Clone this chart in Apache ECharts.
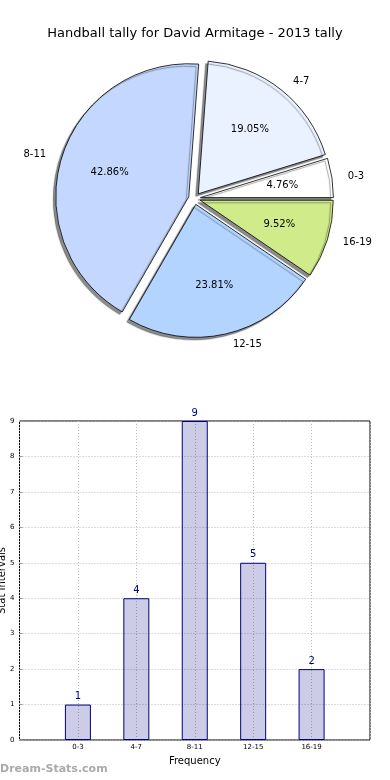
<!DOCTYPE html>
<html><head><meta charset="utf-8">
<script src="https://cdn.jsdelivr.net/npm/echarts@6/dist/echarts.min.js"></script>
<style>html,body{margin:0;padding:0;background:#fff}#c{width:390px;height:780px}</style>
</head><body><div id="c"></div>
<script>
const titleText = 'Handball tally for David Armitage - 2013 tally';
const pieCategories = ['0-3', '4-7', '8-11', '12-15', '16-19'];
const pieValues = [1, 4, 9, 5, 2];
const pieColors = ['#ffffff', '#eaf1ff', '#c4d8ff', '#b3d4ff', '#d0ec8a'];
const barCategories = ['0-3', '4-7', '8-11', '12-15', '16-19'];
const barValues = [1, 4, 9, 5, 2];
const yTicks = [0, 1, 2, 3, 4, 5, 6, 7, 8, 9];

const FONT = 'DejaVu Sans';
const total = pieValues.reduce((a, b) => a + b, 0);
const R = 133;
const OFF = 6;
const CENTER = [194.5, 198.5];
const pieData = pieCategories.map((n, i) => ({
  name: n, value: pieValues[i], selected: true,
  itemStyle: { color: pieColors[i] }
}));

const chart = echarts.init(document.getElementById('c'), null, { renderer: 'canvas' });
chart.setOption({
  animation: false,
  backgroundColor: '#fff',
  textStyle: { fontFamily: FONT },
  title: {
    text: titleText, left: 'center', top: 22,
    textStyle: { fontFamily: FONT, fontSize: 13, fontWeight: 'normal', color: '#000' }
  },
  graphic: [{
    type: 'text', left: 0, top: 764,
    style: { text: 'Dream-Stats.com', fill: '#aaaaaa', font: 'bold 11px "DejaVu Sans"' }
  }],
  grid: {
    left: 19.5, right: 20, top: 421, bottom: 40, show: true,
    outerBoundsMode: 'none', containLabel: false,
    borderColor: '#000', borderWidth: 1, backgroundColor: 'transparent'
  },
  xAxis: {
    type: 'value', min: -1, max: 5, interval: 1, position: 'bottom',
    name: 'Frequency', nameLocation: 'middle', nameGap: 16, nameMoveOverlap: false,
    nameTextStyle: { fontFamily: FONT, fontSize: 10, color: '#000' },
    axisLine: { show: false, onZero: false },
    axisTick: { show: false },
    axisLabel: {
      fontFamily: FONT, fontSize: 7, color: '#000', margin: 4,
      formatter: v => (v >= 0 && v < barCategories.length) ? barCategories[v] : ''
    },
    splitLine: { show: true, lineStyle: { color: '#bbbbbb', type: [1, 2], width: 1 } }
  },
  yAxis: {
    type: 'value', min: yTicks[0], max: yTicks[yTicks.length - 1], interval: 1, position: 'left',
    name: 'Stat Intervals', nameLocation: 'middle', nameGap: 12, nameMoveOverlap: false,
    nameTextStyle: { fontFamily: FONT, fontSize: 10, color: '#000' },
    axisLine: { show: false, onZero: false },
    axisTick: { show: true, inside: true, length: 3, lineStyle: { color: '#999' } },
    axisLabel: { fontFamily: FONT, fontSize: 7, color: '#000', margin: 5 },
    splitLine: { show: true, lineStyle: { color: '#bbbbbb', type: [1, 2], width: 1 } }
  },
  series: [
    {
      type: 'bar',
      data: barValues.map((v, i) => [i, v]),
      barWidth: 26,
      itemStyle: { color: 'rgba(0,0,128,0.2)', borderColor: '#000080', borderWidth: 1 },
      label: { show: true, position: 'top', distance: 3, color: '#000080', fontFamily: FONT, fontSize: 10 },
      z: 1
    },
    {
      type: 'pie', center: CENTER, radius: [0, R],
      startAngle: 0, clockwise: false,
      selectedMode: 'multiple', selectedOffset: OFF,
      avoidLabelOverlap: false,
      data: pieData,
      itemStyle: {
        borderColor: '#000', borderWidth: 0.8,
        shadowColor: 'rgba(0,0,0,0.45)', shadowBlur: 1, shadowOffsetX: -2.5, shadowOffsetY: 2.5
      },
      select: { itemStyle: { borderColor: '#000', borderWidth: 0.8 } },
      emphasis: { disabled: true },
      label: {
        show: true, position: 'outside', color: '#000', fontFamily: FONT, fontSize: 10,
        formatter: '{b}'
      },
      labelLine: { show: false, length: 11, length2: 0 },
      labelLayout: { hideOverlap: false }
    },
    {
      type: 'pie', center: CENTER, radius: [R * 0.2, R],
      startAngle: 0, clockwise: false,
      selectedMode: 'multiple', selectedOffset: OFF,
      avoidLabelOverlap: false, silent: true,
      data: pieCategories.map((n, i) => ({ name: n, value: pieValues[i], selected: true })),
      itemStyle: { color: 'rgba(0,0,0,0)', borderWidth: 0 },
      select: { itemStyle: { color: 'rgba(0,0,0,0)', borderWidth: 0 } },
      emphasis: { disabled: true },
      label: {
        show: true, position: 'inside', color: '#000', fontFamily: FONT, fontSize: 10,
        formatter: p => (p.value / total * 100).toFixed(2) + '%'
      },
      labelLine: { show: false },
      labelLayout: { hideOverlap: false }
    }
  ]
});
</script></body></html>
